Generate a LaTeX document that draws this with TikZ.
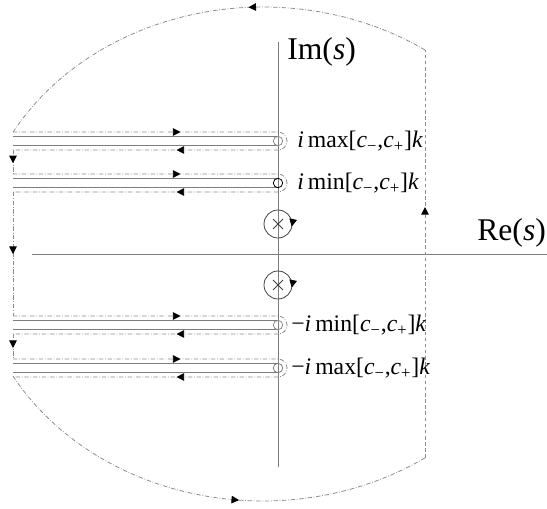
\documentclass[tikz,border=0pt]{standalone}
\usepackage{fontspec}
\setmainfont{Liberation Serif}
\usetikzlibrary{arrows.meta,decorations.markings}
\definecolor{axgray}{RGB}{125,125,125}
\definecolor{ctgray}{RGB}{140,140,140}

\begin{document}
\begin{tikzpicture}[x=0.02cm,y=0.02cm,
  axis/.style={draw=axgray,line width=0.5pt},
  cut/.style={draw=axgray,line width=0.45pt},
  contour/.style={draw=ctgray,line width=0.45pt,dash pattern=on 2.5pt off 1pt on 0.4pt off 1pt},
  vline/.style={draw=ctgray,line width=0.45pt,dash pattern=on 2pt off 1.5pt},
  pole/.style={draw=black!75,line width=0.45pt},
  arr/.style={postaction={decorate,decoration={markings,mark=at position #1 with {\arrow[black]{Triangle[length=4.3pt,width=4.3pt]}}}}},
  lab/.style={anchor=west,inner sep=0pt,font=\fontsize{13.5}{16}\selectfont},
  big/.style={anchor=west,inner sep=0pt,font=\fontsize{18}{21}\selectfont},
]
\useasboundingbox (0,0) rectangle (547,508);

\draw[axis] (32,254) -- (547,254);
\draw[axis] (278,41) -- (278,466);
\node[big] (im) at (287,456) {Im(\textit{s})};
\node[big] (re) at (477,275) {Re(\textit{s})};

\foreach \c/\col in {367/ctgray,325/black,183/ctgray,140/axgray}{
  \draw[cut] (13,\c+4.7) -- (278,\c+4.7);
  \draw[cut] (13,\c-4.7) -- (278,\c-4.7);
  \draw[cut,draw=\col] (278,\c) circle[radius=0.094cm];
  \draw[contour,arr=0.3,arr=0.707] (13,\c+9) -- (278,\c+9)
    arc[start angle=90,end angle=-90,radius=0.18cm] -- (13,\c-9);
}

\draw[contour,arr=0.55] (13,358) -- (13,334);
\draw[contour,arr=0.5] (13,316) -- (13,192);
\draw[contour,arr=0.56] (13,174) -- (13,149);

\draw[contour,arr=0.4] (425,458)
  arc[start angle=55.68,end angle=150.4,x radius=5.748cm,y radius=4.94cm];
\draw[contour,arr=0.58] (13,132)
  arc[start angle=209.6,end angle=304.32,x radius=5.748cm,y radius=4.94cm];
\draw[vline,arr=0.615] (425,50) -- (425,458);

\foreach \c in {284,223}{
  \draw[pole,arr=0.03] (292,\c) arc[start angle=0,end angle=-360,radius=0.28cm];
  \draw[pole] (273,\c-5) -- (283,\c+5) (273,\c+5) -- (283,\c-5);
}

\node[lab] (imax) at (297,367) {\textit{i}\,max[\textit{c}\textsubscript{−},\textit{c}\textsubscript{+}]\textit{k}};
\node[lab] (imin) at (297,325) {\textit{i}\,min[\textit{c}\textsubscript{−},\textit{c}\textsubscript{+}]\textit{k}};
\node[lab] (mimin) at (291,183) {−\textit{i}\,min[\textit{c}\textsubscript{−},\textit{c}\textsubscript{+}]\textit{k}};
\node[lab] (mimax) at (291,140) {−\textit{i}\,max[\textit{c}\textsubscript{−},\textit{c}\textsubscript{+}]\textit{k}};
\end{tikzpicture}
\end{document}
